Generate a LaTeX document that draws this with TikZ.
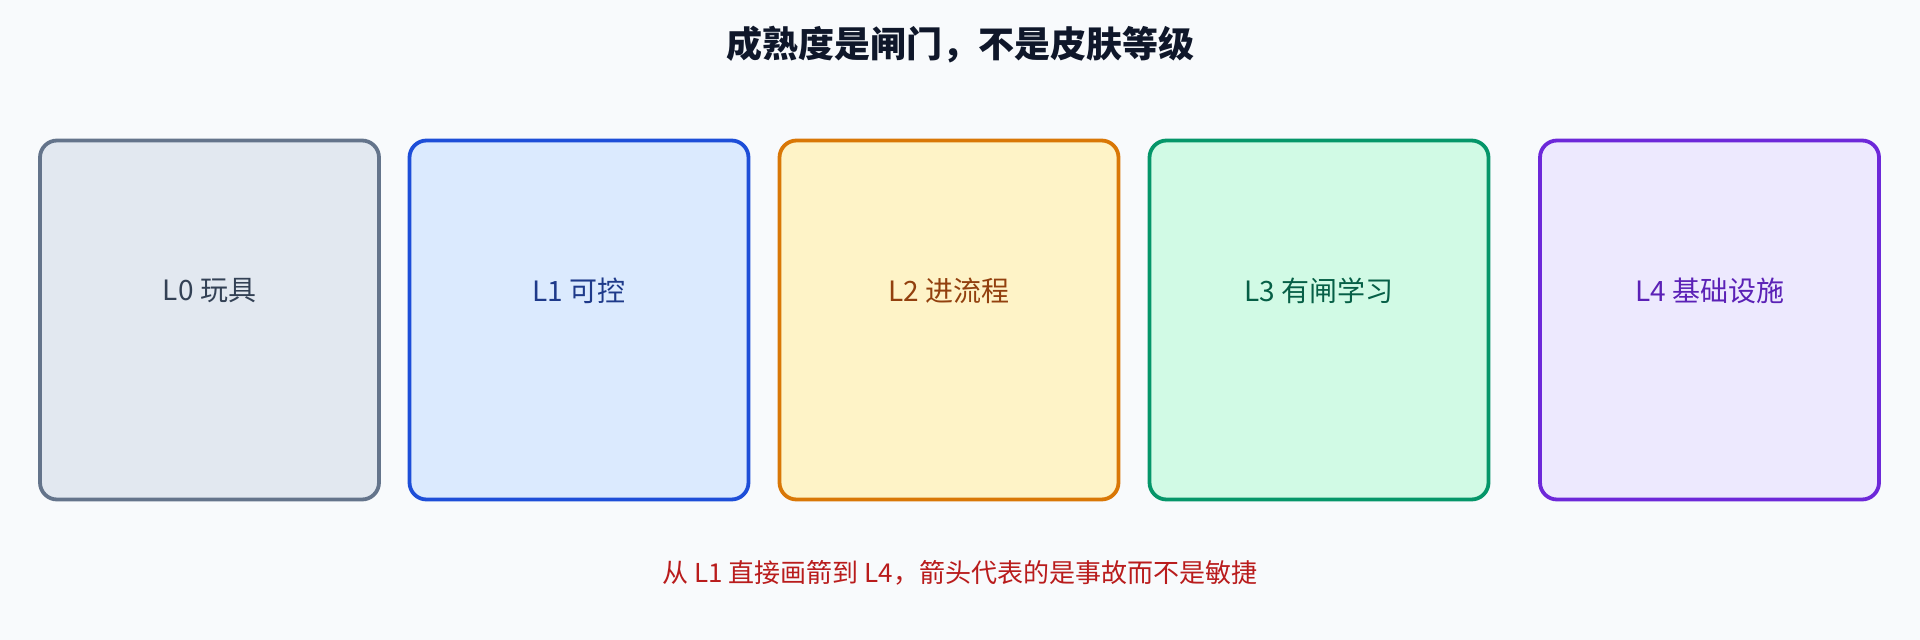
\documentclass[tikz,border=0pt]{standalone}
\usepackage{fontspec}
\setmainfont{Noto Sans CJK SC}
\usetikzlibrary{positioning}
\definecolor{bg}{HTML}{F8FAFC}
\definecolor{titlecol}{HTML}{0F172A}
\definecolor{warncol}{HTML}{B91C1C}
\definecolor{fillA}{HTML}{E2E8F0}\definecolor{drawA}{HTML}{64748B}\definecolor{textA}{HTML}{334155}
\definecolor{fillB}{HTML}{DBEAFE}\definecolor{drawB}{HTML}{1D4ED8}\definecolor{textB}{HTML}{1E3A8A}
\definecolor{fillC}{HTML}{FEF3C7}\definecolor{drawC}{HTML}{D97706}\definecolor{textC}{HTML}{92400E}
\definecolor{fillD}{HTML}{D1FAE5}\definecolor{drawD}{HTML}{059669}\definecolor{textD}{HTML}{065F46}
\definecolor{fillE}{HTML}{EDE9FE}\definecolor{drawE}{HTML}{6D28D9}\definecolor{textE}{HTML}{5B21B6}
\tikzset{
  level/.style={draw=draw#1, fill=fill#1, line width=3.8pt, rounded corners=17pt,
    minimum width=339pt, minimum height=359pt, inner sep=0pt},
  levtext/.style={text=text#1, font=\fontsize{28}{32}\selectfont, inner sep=0pt}
}
\begin{document}
\begin{tikzpicture}[x=1pt, y=-1pt]
      \fill[bg] (0,0) rectangle (1920,640);
      \node[font=\fontsize{36}{42}\selectfont\bfseries, text=titlecol] (title) at (960,45) {成熟度是闸门，不是皮肤等级};
      \draw
        (209.5,320) node[level=A] (l0){}
        (579,320) node[level=B] (l1){}
        (949,320) node[level=C] (l2){}
        (1319,320) node[level=D] (l3){}
        (1709.5,320) node[level=E] (l4){};
      \node[levtext=A] (t0) at ([yshift=29pt]l0.center) {L0 玩具};
      \node[levtext=B] (t1) at ([yshift=29pt]l1.center) {L1 可控};
      \node[levtext=C] (t2) at ([yshift=29pt]l2.center) {L2 进流程};
      \node[levtext=D] (t3) at ([yshift=29pt]l3.center) {L3 有闸学习};
      \node[levtext=E] (t4) at ([yshift=29pt]l4.center) {L4 基础设施};
      \node[font=\fontsize{26}{30}\selectfont, text=warncol] (warn) at (960,573) {从 L1 直接画箭到 L4，箭头代表的是事故而不是敏捷};
    \end{tikzpicture}
\end{document}
